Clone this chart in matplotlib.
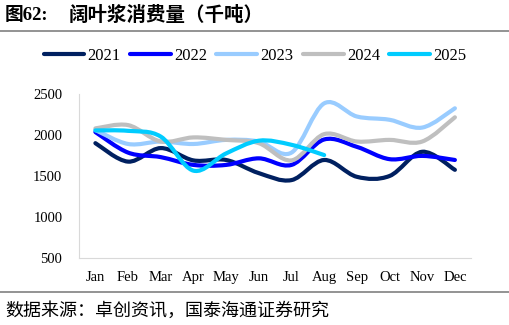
import numpy as np
import matplotlib
matplotlib.use('Agg')
import matplotlib.pyplot as plt
from matplotlib.path import Path
from matplotlib.patches import PathPatch
from matplotlib.lines import Line2D

plt.rcParams['font.family'] = ['Liberation Serif', 'Noto Sans CJK SC']

months = ['Jan', 'Feb', 'Mar', 'Apr', 'May', 'Jun', 'Jul', 'Aug', 'Sep', 'Oct', 'Nov', 'Dec']
y2021 = [1900, 1675, 1840, 1690, 1695, 1535, 1450, 1695, 1490, 1500, 1795, 1575]
y2022 = [2035, 1785, 1730, 1635, 1635, 1715, 1635, 1945, 1855, 1705, 1745, 1695]
y2023 = [2060, 1890, 1920, 1890, 1940, 1920, 1785, 2385, 2225, 2185, 2090, 2325]
y2024 = [2080, 2120, 1920, 1970, 1940, 1900, 1690, 2010, 1920, 1940, 1920, 2215]
y2025 = [2055, 2050, 1980, 1565, 1775, 1930, 1880, 1755]
years = ['2021', '2022', '2023', '2024', '2025']
colors = ['#002060', '#0000FF', '#99CCFF', '#BFBFBF', '#00CCFF']


def smooth_path(xs, ys):
    # catmull-rom -> bezier, like excel smoothed lines
    xs = np.asarray(xs, float)
    ys = np.asarray(ys, float)
    pts = np.column_stack([xs, ys])
    verts = [pts[0]]
    codes = [Path.MOVETO]
    n = len(pts)
    for i in range(n - 1):
        p0 = pts[max(i - 1, 0)]
        p1 = pts[i]
        p2 = pts[i + 1]
        p3 = pts[min(i + 2, n - 1)]
        c1 = p1 + (p2 - p0) / 6
        c2 = p2 - (p3 - p1) / 6
        verts += [c1, c2, p2]
        codes += [Path.CURVE4] * 3
    return Path(verts, codes)


fig = plt.figure(figsize=(5.1, 3.25), dpi=100)
ax = fig.add_axes([0.155, 0.206, 0.769, 0.505])

series = [y2021, y2022, y2023, y2024, y2025]
for vals, c in zip(series, colors):
    x = np.arange(len(vals))
    patch = PathPatch(smooth_path(x, vals), facecolor='none', edgecolor=c,
                      lw=3, capstyle='round', joinstyle='round')
    ax.add_patch(patch)

ax.set_xlim(-0.5, 11.5)
ax.set_ylim(500, 2500)
ax.set_yticks([500, 1000, 1500, 2000, 2500])
ax.set_xticks(range(12))
ax.set_xticklabels(months)
ax.tick_params(length=0, labelsize=10.5)
ax.tick_params(axis='y', pad=12)
ax.tick_params(axis='x', pad=9)
for s in ['top', 'right']:
    ax.spines[s].set_visible(False)
for s in ['left', 'bottom']:
    ax.spines[s].set_color('#D9D9D9')

handles = [Line2D([], [], color=c, lw=3, solid_capstyle='round') for c in colors]
fig.legend(handles, years, loc='center', bbox_to_anchor=(0.5, 0.828), ncol=5,
           frameon=False, fontsize=12, handlelength=2.45, handletextpad=0.2,
           columnspacing=0.55)

fig.text(0.01, 0.953, '图62:', fontsize=13.5, fontweight='bold',
         va='center', ha='left', family=['Liberation Serif', 'Noto Sans CJK SC'])
fig.text(0.135, 0.953, '阔叶浆消费量（千吨）', fontsize=14, fontweight='bold',
         va='center', ha='left', family=['Noto Sans CJK SC'])
fig.add_artist(Line2D([0, 1], [0.905, 0.905], color='#808080', lw=1.2))
fig.add_artist(Line2D([0, 1], [0.102, 0.102], color='#808080', lw=1.2))
fig.text(0.01, 0.045, '数据来源：卓创资讯，国泰海通证券研究', fontsize=13,
         va='center', ha='left', family=['Noto Sans CJK SC'])

fig.savefig('out.png', dpi=100)
